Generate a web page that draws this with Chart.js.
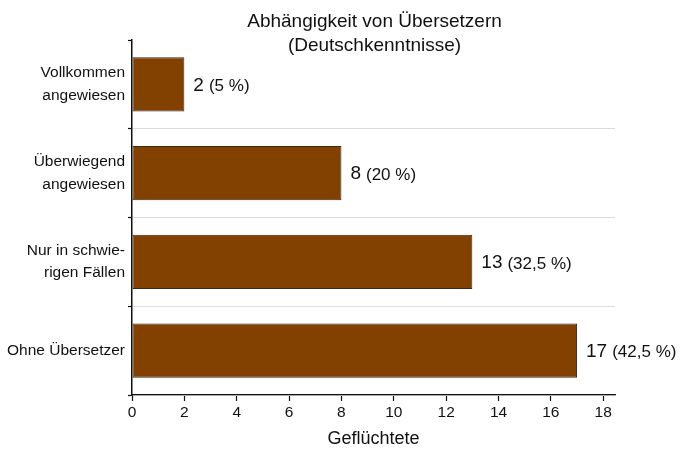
<!DOCTYPE html>
<html>
<head>
<meta charset="utf-8">
<script src="https://cdn.jsdelivr.net/npm/chart.js@4"></script>
<style>
  html, body { margin: 0; padding: 0; background: #fff; }
  #wrap { width: 681px; height: 451px; }
</style>
</head>
<body>
<div id="wrap"><canvas id="c" width="681" height="451"></canvas></div>
<script>
// Categories (top to bottom), counts and shares
const categories = [
  ['Vollkommen', 'angewiesen'],
  ['Überwiegend', 'angewiesen'],
  ['Nur in schwie-', 'rigen Fällen'],
  'Ohne Übersetzer'
];
const counts = [2, 8, 13, 17];
const shares = [5, 20, 32.5, 42.5];
const xTicks = [0, 2, 4, 6, 8, 10, 12, 14, 16, 18];
const titleLines = ['Abhängigkeit von Übersetzern', '(Deutschkenntnisse)'];
const xTitle = 'Geflüchtete';

const FONT = '"Liberation Sans", Arial, sans-serif';
const INK = '#111';

// Title over the top of the plot plus value labels next to each bar
const annotate = {
  id: 'annotate',
  afterDatasetsDraw(chart) {
    const { ctx, chartArea } = chart;
    ctx.save();
    ctx.fillStyle = INK;
    ctx.textAlign = 'center';
    ctx.textBaseline = 'alphabetic';
    ctx.font = '19px ' + FONT;
    const cx = (chartArea.left + chartArea.right) / 2;
    ctx.fillText(titleLines[0], cx + 1, 27);
    ctx.fillText(titleLines[1], cx + 1, 51);

    const meta = chart.getDatasetMeta(0);
    meta.data.forEach((bar, i) => {
      const x0 = bar.x + 9;
      const y = bar.y;
      ctx.textAlign = 'left';
      ctx.textBaseline = 'middle';
      const num = String(counts[i]);
      ctx.font = '19px ' + FONT;
      ctx.fillText(num, x0, y + 1);
      const w = ctx.measureText(num).width;
      ctx.font = '17px ' + FONT;
      const pct = '(' + String(shares[i]).replace('.', ',') + ' %)';
      ctx.fillText(pct, x0 + w + 5, y + 2);
    });
    ctx.restore();
  }
};

new Chart(document.getElementById('c'), {
  type: 'bar',
  data: {
    labels: categories,
    datasets: [{
      data: counts,
      backgroundColor: '#824100',
      borderColor: '#3a2a1a',
      borderWidth: 1,
      borderSkipped: false,
      barPercentage: 0.61,
      categoryPercentage: 1
    }]
  },
  options: {
    indexAxis: 'y',
    responsive: false,
    animation: false,
    layout: { padding: { top: 40, right: 66, bottom: 0, left: 0 } },
    plugins: {
      legend: { display: false },
      tooltip: { enabled: false },
      title: { display: false }
    },
    scales: {
      x: {
        type: 'linear',
        min: 0,
        max: 18.45,
        afterBuildTicks(scale) {
          scale.ticks = xTicks.map(v => ({ value: v }));
        },
        afterFit(scale) { scale.height = 56; },
        border: { color: INK, width: 1.2 },
        grid: {
          drawOnChartArea: false,
          drawTicks: true,
          tickLength: 6,
          tickColor: INK,
          tickWidth: 1.2
        },
        ticks: {
          color: INK,
          padding: 2,
          font: { family: FONT, size: 15.5 }
        },
        title: {
          display: true,
          text: xTitle,
          color: INK,
          font: { family: FONT, size: 18 },
          padding: { top: 0, bottom: 1 }
        }
      },
      y: {
        type: 'category',
        afterFit(scale) { scale.width = 132; },
        border: { color: INK, width: 1.5 },
        grid: {
          offset: true,
          drawOnChartArea: true,
          color: (c) => (c.index === 0 ? 'rgba(0,0,0,0)' : '#dcdcdc'),
          borderDash: [1, 3],
          lineWidth: 1,
          drawTicks: true,
          tickLength: 4,
          tickColor: INK,
          tickWidth: 1.2,
          tickBorderDash: []
        },
        ticks: {
          color: INK,
          padding: 3,
          font: { family: FONT, size: 15.5, lineHeight: 1.45 }
        }
      }
    }
  },
  plugins: [annotate]
});
</script>
</body>
</html>
